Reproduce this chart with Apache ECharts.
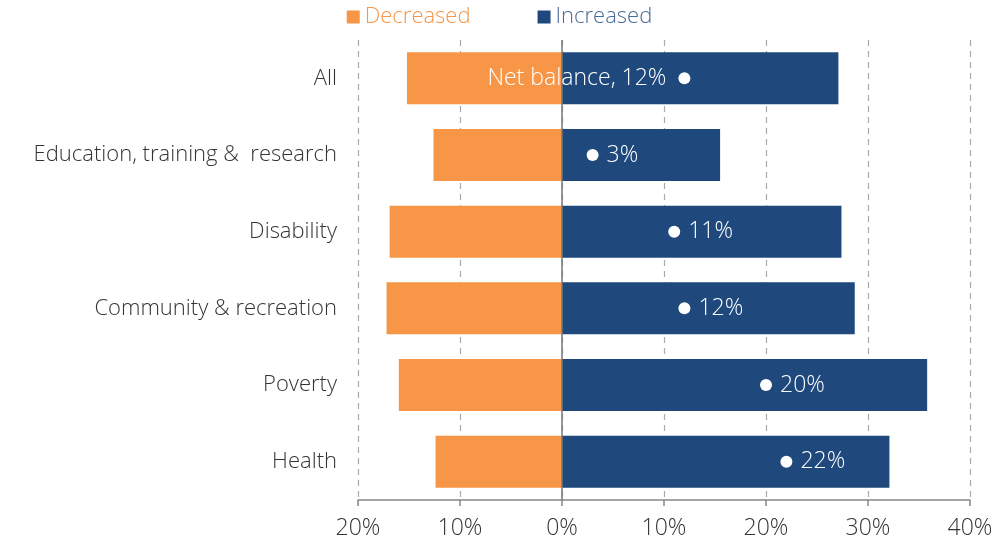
<!DOCTYPE html>
<html>
<head>
<meta charset="utf-8">
<script src="https://cdn.jsdelivr.net/npm/echarts@6/dist/echarts.min.js"></script>
<style>
  html, body { margin: 0; padding: 0; background: #fff; }
  #chart { width: 999px; height: 548px; }
</style>
</head>
<body>
<div id="chart"></div>
<script>
// Share of organisations reporting a change, by cause area (%)
const categories = ['All', 'Education, training &  research', 'Disability', 'Community & recreation', 'Poverty', 'Health'];
const decreased = [15.2, 12.6, 16.9, 17.2, 16.0, 12.4];
const increased = [27.1, 15.5, 27.4, 28.7, 35.8, 32.1];
const netBalance = [12, 3, 11, 12, 20, 22];
const xTicks = [-20, -10, 0, 10, 20, 30, 40];

const FONT = '"Open Sans"';
const ORANGE = '#F79646';
const NAVY = '#1F497D';

const chart = echarts.init(document.getElementById('chart'));
chart.setOption({
  animation: false,
  textStyle: { fontFamily: FONT },
  legend: {
    top: 1,
    left: 'center',
    itemWidth: 13,
    itemHeight: 13,
    itemGap: 67,
    icon: 'rect',
    textStyle: { fontSize: 22, fontFamily: FONT, fontWeight: 300 },
    data: [
      { name: 'Decreased', textStyle: { color: ORANGE } },
      { name: 'Increased', textStyle: { color: '#4A6A96' } }
    ]
  },
  grid: { left: 358, right: 29, top: 40, bottom: 48 },
  xAxis: {
    type: 'value',
    min: xTicks[0],
    max: xTicks[xTicks.length - 1],
    interval: 10,
    axisLine: { show: true, lineStyle: { color: '#888', width: 1.5 } },
    axisTick: { show: true, length: 6, lineStyle: { color: '#888', width: 1.5 } },
    splitLine: { show: true, lineStyle: { color: '#aaa', type: [6, 5], width: 1.2 } },
    axisLabel: {
      margin: 17,
      fontSize: 23,
      color: '#333',
      fontWeight: 300,
      formatter: v => Math.abs(v) + '%'
    }
  },
  yAxis: {
    type: 'category',
    inverse: true,
    data: categories,
    axisLine: { show: false },
    axisTick: { show: false },
    splitLine: { show: false },
    axisLabel: { margin: 21, fontSize: 22, color: '#333', fontWeight: 300 }
  },
  series: [
    {
      name: 'Decreased',
      type: 'bar',
      barWidth: 52,
      barGap: '-100%',
      itemStyle: { color: ORANGE },
      data: decreased.map(v => -v),
      z: 2
    },
    {
      name: 'Increased',
      type: 'bar',
      barWidth: 52,
      barGap: '-100%',
      itemStyle: { color: NAVY },
      data: increased,
      z: 2,
      markLine: {
        silent: true,
        symbol: 'none',
        label: { show: false },
        lineStyle: { color: '#777', type: 'solid', width: 1.5 },
        data: [{ xAxis: 0 }]
      }
    },
    {
      name: 'Net balance',
      type: 'scatter',
      symbol: 'circle',
      symbolSize: 12,
      itemStyle: { color: '#fff', opacity: 1 },
      z: 5,
      data: netBalance.map((v, i) => ({
        value: [v, i],
        label: i === 0
          ? { show: true, position: 'left', distance: 12, formatter: 'Net balance, {@[0]}%' }
          : { show: true, position: 'right', distance: 8, formatter: '{@[0]}%' }
      })),
      label: { color: '#fff', fontSize: 23, fontWeight: 300, fontFamily: FONT }
    }
  ]
});
</script>
</body>
</html>
